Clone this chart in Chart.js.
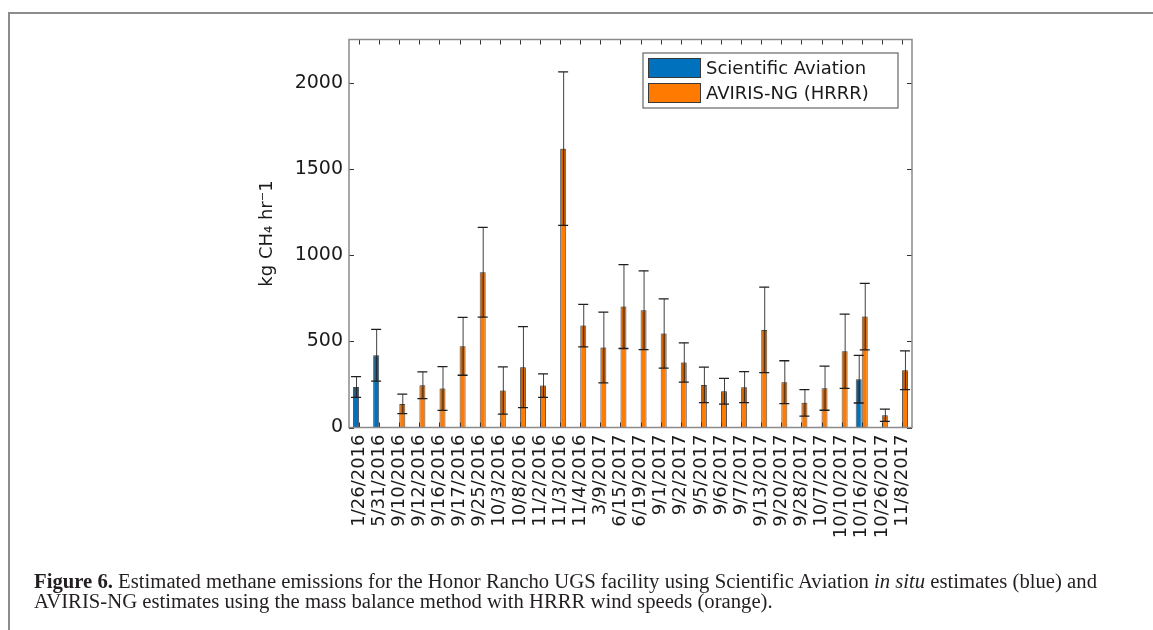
<!DOCTYPE html>
<html>
<head>
<meta charset="utf-8">
<script src="https://cdn.jsdelivr.net/npm/chart.js@4/dist/chart.umd.min.js"></script>
<style>
  html,body{margin:0;padding:0;background:#fff;}
  #wrap{position:relative;width:1153px;height:630px;overflow:hidden;background:#fff;}
  #frame{position:absolute;left:8px;top:12px;width:1145px;height:618px;border-top:2px solid #8c8c8c;border-left:2px solid #8c8c8c;box-sizing:border-box;}
  canvas{position:absolute;left:0;top:0;}
  .cap{position:absolute;left:34px;font-family:"Liberation Serif","DejaVu Serif",serif;font-size:20px;line-height:20px;color:#231f20;white-space:nowrap;transform-origin:0 0;}
</style>
</head>
<body>
<div id="wrap">
  <div id="frame"></div>
  <canvas id="c" width="1153" height="630"></canvas>
  <div class="cap" id="cap1" style="top:571px;"><b>Figure 6.</b> Estimated methane emissions for the Honor Rancho UGS facility using Scientific Aviation <i>in situ</i> estimates (blue) and</div>
  <div class="cap" id="cap2" style="top:591px;">AVIRIS-NG estimates using the mass balance method with HRRR wind speeds (orange).</div>
</div>
<script>
const categories = ['1/26/2016','5/31/2016','9/10/2016','9/12/2016','9/16/2016','9/17/2016','9/25/2016','10/3/2016','10/8/2016','11/2/2016','11/3/2016','11/4/2016','3/9/2017','6/15/2017','6/19/2017','9/1/2017','9/2/2017','9/5/2017','9/6/2017','9/7/2017','9/13/2017','9/20/2017','9/28/2017','10/7/2017','10/10/2017','10/16/2017','10/26/2017','11/8/2017'];

const sciAviation    = [235, 419, null, null, null, null, null, null, null, null, null, null, null, null, null, null, null, null, null, null, null, null, null, null, null, 280, null, null];
const sciAviationErr = [60, 150, null, null, null, null, null, null, null, null, null, null, null, null, null, null, null, null, null, null, null, null, null, null, null, 138, null, null];

const aviris    = [null, null, 137, 245, 226, 471, 900, 214, 350, 243, 1617, 591, 464, 701, 680, 545, 377, 247, 210, 234, 566, 263, 143, 228, 442, 643, 71, 332];
const avirisErr = [null, null, 56, 78, 127, 168, 260, 137, 235, 68, 445, 123, 205, 243, 228, 201, 114, 103, 75, 90, 248, 124, 77, 128, 215, 193, 36, 112];

const yTicks = [0, 500, 1000, 1500, 2000];
const yMax = 2250;

const FONT = '"DejaVu Sans", "Liberation Sans", sans-serif';
const TXT = '#1a1a1a';

const overlay = {
  id: 'overlay',
  afterDatasetsDraw(chart) {
    const ctx = chart.ctx, y = chart.scales.y;
    chart.data.datasets.forEach((ds, di) => {
      const meta = chart.getDatasetMeta(di);
      meta.data.forEach((bar, i) => {
        const v = ds.data[i];
        if (v == null) return;
        const e = ds.errors[i];
        const yv = y.getPixelForValue(v);
        const yHi = y.getPixelForValue(v + e);
        const yLo = y.getPixelForValue(Math.max(v - e, 0));
        const bx = bar.x, bw = bar.width;
        ctx.save();
        ctx.fillStyle = 'rgba(90,40,0,0.30)';
        ctx.fillRect(bx - bw / 2 + 1, yv, bw - 2, yLo - yv);
        ctx.strokeStyle = 'rgba(30,30,30,0.85)';
        ctx.lineWidth = 1;
        ctx.beginPath();
        ctx.moveTo(bx + 0.5, yHi);
        ctx.lineTo(bx + 0.5, yLo);
        ctx.stroke();
        ctx.strokeStyle = '#1e1e1e';
        ctx.lineWidth = 1.3;
        ctx.beginPath();
        ctx.moveTo(bx - 5, yHi); ctx.lineTo(bx + 5, yHi);
        ctx.moveTo(bx - 5, yLo); ctx.lineTo(bx + 5, yLo);
        ctx.stroke();
        ctx.restore();
      });
    });
  },
  afterDraw(chart) {
    const ctx = chart.ctx, a = chart.chartArea, x = chart.scales.x, y = chart.scales.y;
    ctx.save();
    ctx.strokeStyle = '#333';
    ctx.lineWidth = 1;
    ctx.beginPath();
    categories.forEach((c, i) => {
      const px = Math.round(x.getPixelForValue(i)) + 0.5;
      ctx.moveTo(px, a.top); ctx.lineTo(px, a.top + 5);
      ctx.moveTo(px, a.bottom); ctx.lineTo(px, a.bottom - 5);
    });
    yTicks.forEach(v => {
      const py = Math.round(y.getPixelForValue(v)) + 0.5;
      ctx.moveTo(a.left, py); ctx.lineTo(a.left + 5, py);
      ctx.moveTo(a.right, py); ctx.lineTo(a.right - 5, py);
    });
    ctx.stroke();
    ctx.strokeStyle = '#8a8a8a';
    ctx.lineWidth = 1.5;
    ctx.strokeRect(a.left, a.top, a.right - a.left, a.bottom - a.top);
    const lx = 643, ly = 53, lw = 255, lh = 55;
    ctx.fillStyle = '#fff';
    ctx.fillRect(lx, ly, lw, lh);
    ctx.strokeStyle = '#666';
    ctx.lineWidth = 1.2;
    ctx.strokeRect(lx, ly, lw, lh);
    ctx.font = '18px ' + FONT;
    ctx.textBaseline = 'middle';
    ctx.textAlign = 'left';
    chart.data.datasets.forEach((ds, di) => {
      const ry = 68 + di * 25;
      ctx.fillStyle = ds.backgroundColor;
      ctx.fillRect(648, ry - 10, 53, 20);
      ctx.strokeStyle = '#3a3a3a';
      ctx.lineWidth = 1;
      ctx.strokeRect(648.5, ry - 9.5, 52, 19);
      ctx.fillStyle = TXT;
      ctx.fillText(ds.label, 706, ry + 1);
    });
    ctx.restore();
  }
};

new Chart(document.getElementById('c'), {
  type: 'bar',
  data: {
    labels: categories,
    datasets: [
      { label: 'Scientific Aviation', data: sciAviation, errors: sciAviationErr,
        backgroundColor: '#0072BD', borderColor: 'rgba(30,30,30,0.75)', borderWidth: 1 },
      { label: 'AVIRIS-NG (HRRR)', data: aviris, errors: avirisErr,
        backgroundColor: '#FF7A00', borderColor: 'rgba(30,30,30,0.75)', borderWidth: 1 }
    ]
  },
  options: {
    responsive: false,
    animation: false,
    devicePixelRatio: 1,
    categoryPercentage: 0.6,
    barPercentage: 1.0,
    layout: { padding: { left: 253, top: 39.5, right: 241, bottom: 0 } },
    plugins: { legend: { display: false }, tooltip: { enabled: false }, title: { display: false } },
    scales: {
      x: {
        offset: true,
        grid: { display: false, drawTicks: false },
        border: { display: false },
        ticks: { color: TXT, font: { family: FONT, size: 18 }, minRotation: 90, maxRotation: 90, padding: 7, autoSkip: false },
        afterFit: s => { s.height = 202.5; }
      },
      y: {
        min: 0, max: yMax,
        grid: { display: false, drawTicks: false },
        border: { display: false },
        ticks: { color: TXT, font: { family: FONT, size: 19 }, padding: 6, includeBounds: false,
                 callback: v => String(v) },
        afterBuildTicks: s => { s.ticks = yTicks.map(v => ({ value: v })); },
        afterFit: s => { s.width = 96; },
        title: { display: true, text: 'kg CH\u2084 hr\u207B1', color: TXT, font: { family: FONT, size: 18 }, padding: { top: 4, bottom: 4 } }
      }
    }
  },
  plugins: [overlay]
});

(function(){
  const c1 = document.getElementById('cap1'), c2 = document.getElementById('cap2');
  const w = c1.getBoundingClientRect().width;
  const s = 1063 / w;
  c1.style.transform = 'scaleX(' + s + ')';
  c2.style.transform = 'scaleX(' + s + ')';
})();
</script>
</body>
</html>
